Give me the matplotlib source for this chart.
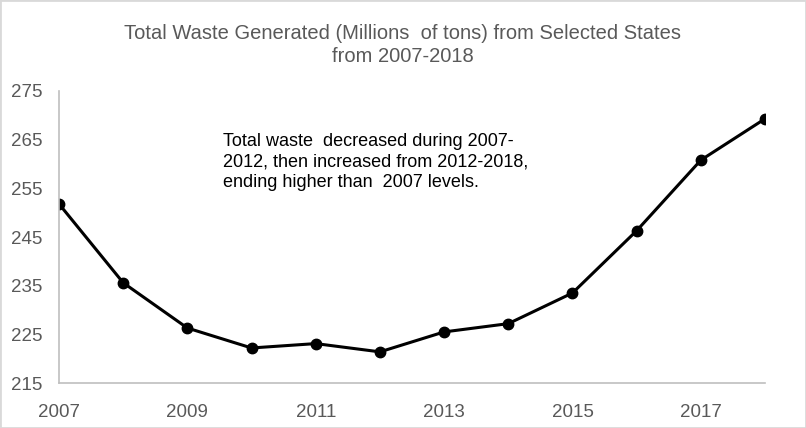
import matplotlib.pyplot as plt
from matplotlib.patches import Rectangle

years = [2007, 2008, 2009, 2010, 2011, 2012, 2013, 2014, 2015, 2016, 2017, 2018]
waste = [251.8, 235.6, 226.3, 222.2, 223.1, 221.4, 225.5, 227.2, 233.5, 246.3, 260.8, 269.3]
yticks = [215, 225, 235, 245, 255, 265, 275]
xticks = [2007, 2009, 2011, 2013, 2015, 2017]

grey = '#595959'
fig = plt.figure(figsize=(8.06, 4.28), dpi=100)
fig.patches.append(Rectangle((0, 0), 1, 1, transform=fig.transFigure, fill=False,
                             edgecolor='#d9d9d9', linewidth=2))
ax = fig.add_axes([0.0732, 0.1051, 0.8760, 0.6823])

ax.plot(years, waste, color='black', linewidth=2.2, marker='o', markersize=7.5)

ax.set_xlim(2007, 2018)
ax.set_ylim(215, 275)
ax.set_yticks(yticks)
ax.set_xticks(xticks)
ax.tick_params(length=0, labelsize=13.5, labelcolor=grey)
ax.tick_params(axis='x', pad=15)
ax.tick_params(axis='y', pad=12)
for lab in ax.get_xticklabels() + ax.get_yticklabels():
    lab.set_family('Liberation Sans')

for s in ['top', 'right']:
    ax.spines[s].set_visible(False)
for s in ['left', 'bottom']:
    ax.spines[s].set_color('#bfbfbf')
    ax.spines[s].set_linewidth(1.2)

fig.text(0.5, 0.945, 'Total Waste Generated (Millions  of tons) from Selected States\nfrom 2007-2018',
         ha='center', va='top', fontsize=14.5, color=grey, family='Liberation Sans',
         linespacing=1.3)

ax.text(2009.55, 266.3, 'Total waste  decreased during 2007-\n2012, then increased from 2012-2018,\nending higher than  2007 levels.',
        ha='left', va='top', fontsize=13, color='black', family='Liberation Sans', linespacing=1.25)

fig.savefig('out.png', dpi=100)
